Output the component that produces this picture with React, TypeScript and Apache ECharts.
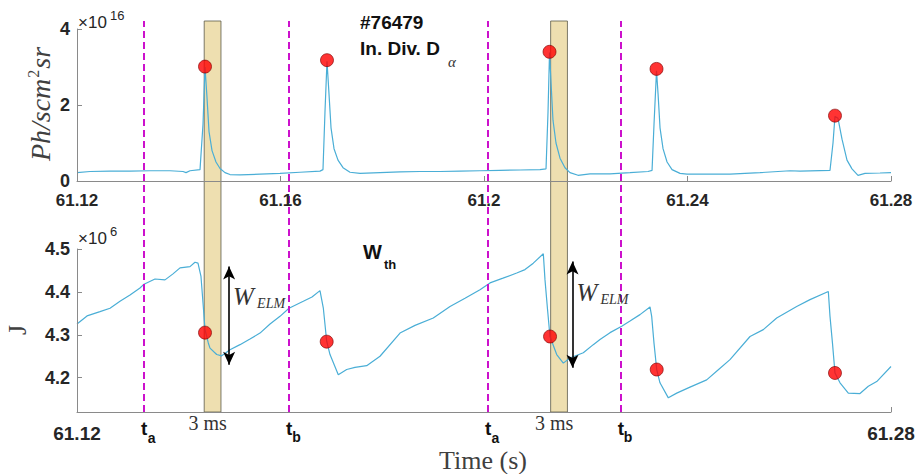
import React, { useEffect, useRef } from "react";
import * as echarts from "echarts";

// ---- data ----
const X_MIN = 61.12;
const X_MAX = 61.28;
const TOP_X_TICKS = [61.12, 61.16, 61.2, 61.24, 61.28];
const BOTTOM_X_TICKS = [61.12, 61.28];
const TOP_Y_TICKS = [0, 2, 4];
const BOTTOM_Y_TICKS = [4.2, 4.3, 4.4, 4.5];

// In. Div. D_alpha  (units of 1e16 Ph/scm^2sr)
const DALPHA_T = [
  61.12, 61.12256, 61.12649, 61.13042, 61.13435, 61.13828, 61.14084, 61.14143, 61.14221, 61.14418,
  61.14477, 61.14516, 61.14555, 61.14595, 61.14654, 61.14732, 61.14811, 61.14909, 61.15007, 61.15204,
  61.15597, 61.1599, 61.16383, 61.16776, 61.16835, 61.16874, 61.16914, 61.16953, 61.16993, 61.17052,
  61.1713, 61.17229, 61.17366, 61.17563, 61.17956, 61.18349, 61.18742, 61.19135, 61.19528, 61.19921,
  61.20314, 61.20708, 61.21101, 61.21219, 61.21258, 61.21288, 61.21317, 61.21356, 61.21415, 61.21494,
  61.21592, 61.2169, 61.21848, 61.22084, 61.22477, 61.2287, 61.23224, 61.23303, 61.23342, 61.23391,
  61.23421, 61.2346, 61.23519, 61.23598, 61.23696, 61.23853, 61.23991, 61.24246, 61.24836, 61.25425,
  61.26015, 61.26212, 61.26801, 61.2686, 61.26899, 61.26958, 61.27037, 61.27135, 61.27233, 61.27351,
  61.27489, 61.27784, 61.28,
];
const DALPHA_V = [
  0.22, 0.25, 0.26, 0.26, 0.27, 0.27, 0.25, 0.22, 0.27, 0.3,
  1.5, 3.0, 2.2, 1.3, 0.8, 0.5, 0.33, 0.22, 0.17, 0.16,
  0.18, 0.2, 0.23, 0.26, 0.3, 1.8, 3.15, 2.3, 1.4, 0.85,
  0.55, 0.35, 0.23, 0.2, 0.22, 0.24, 0.25, 0.25, 0.26, 0.27,
  0.28, 0.29, 0.3, 0.32, 1.8, 3.38, 2.6, 1.6, 1.0, 0.6,
  0.35, 0.22, 0.15, 0.19, 0.19, 0.22, 0.25, 0.28, 1.5, 2.9,
  2.3, 1.4, 0.85, 0.5, 0.3, 0.2, 0.18, 0.18, 0.18, 0.22,
  0.27, 0.26, 0.28, 1.0, 1.7, 1.65, 1.1, 0.55, 0.32, 0.15,
  0.2, 0.21, 0.22,
];
const DALPHA_DOT_T = [61.14516, 61.16914, 61.21288, 61.23391, 61.26899];
const DALPHA_DOT_V = [3.01, 3.18, 3.4, 2.95, 1.72];

// W_th (units of 1e6 J)
const WTH_T = [
  61.12, 61.12197, 61.12452, 61.12649, 61.12845, 61.13042, 61.13238, 61.13317, 61.13533, 61.1373,
  61.13887, 61.14025, 61.14221, 61.14319, 61.14378, 61.14437, 61.14477, 61.14516, 61.14581, 61.14614,
  61.14746, 61.14844, 61.15007, 61.15204, 61.154, 61.15597, 61.15794, 61.1599, 61.16167, 61.16448,
  61.16619, 61.16776, 61.16841, 61.16908, 61.16973, 61.17136, 61.17301, 61.17464, 61.17694, 61.17956,
  61.18349, 61.18644, 61.19003, 61.19332, 61.19627, 61.19921, 61.20118, 61.20373, 61.20643, 61.20806,
  61.20969, 61.21166, 61.21199, 61.21248, 61.21297, 61.21429, 61.21559, 61.2169, 61.21952, 61.22148,
  61.2228, 61.22477, 61.22707, 61.2287, 61.23066, 61.23263, 61.23296, 61.23342, 61.23395, 61.23459,
  61.23623, 61.23788, 61.24049, 61.24377, 61.246, 61.24835, 61.25229, 61.2549, 61.25753, 61.26146,
  61.26408, 61.26768, 61.26801, 61.2685, 61.26899, 61.26998, 61.27161, 61.27391, 61.27554, 61.27719,
  61.28,
];
const WTH_V = [
  4.325, 4.344, 4.354, 4.362, 4.378, 4.393, 4.409, 4.418, 4.43, 4.428,
  4.442, 4.456, 4.459, 4.469, 4.467, 4.436, 4.374, 4.312, 4.281, 4.269,
  4.254, 4.251, 4.265, 4.277, 4.29, 4.304, 4.325, 4.343, 4.362, 4.378,
  4.388, 4.403, 4.363, 4.285, 4.254, 4.207, 4.219, 4.224, 4.228, 4.25,
  4.304, 4.322, 4.339, 4.366, 4.385, 4.405, 4.421, 4.432, 4.444, 4.452,
  4.467, 4.489, 4.428, 4.36, 4.296, 4.254, 4.234, 4.246, 4.258, 4.277,
  4.289, 4.305, 4.32, 4.332, 4.347, 4.365, 4.343, 4.28, 4.219, 4.188,
  4.153, 4.164, 4.178, 4.195, 4.218, 4.242, 4.296, 4.312, 4.339, 4.366,
  4.382, 4.401, 4.343, 4.28, 4.211, 4.188, 4.164, 4.163, 4.18, 4.191,
  4.226,
];
const WTH_DOT_T = [61.14516, 61.16908, 61.21298, 61.23395, 61.26899];
const WTH_DOT_V = [4.305, 4.284, 4.296, 4.219, 4.211];

// annotations
const T_A = [61.1332, 61.2008];
const T_B = [61.1617, 61.2269];
const BAND_START = [61.145, 61.2131];
const BAND_END = [61.1483, 61.2164];
const ARROW_T = [61.1499, 61.2174];
const ARROW_TOP = [4.459, 4.471];
const ARROW_BOT = [4.23, 4.223];

const SANS = '"Liberation Sans", Arial, Helvetica, sans-serif';
const SERIF = '"Liberation Serif", "Times New Roman", serif';
const LINE_COLOR = "#4aaed6";
const AXIS_COLOR = "#8a8a8a";
const LABEL_COLOR = "#262626";

const fmt = (v: number) => String(parseFloat(v.toFixed(2)));

export default function App() {
  const ref = useRef<HTMLDivElement>(null);
  useEffect(() => {
    if (!ref.current) return;
    const chart = echarts.init(ref.current, undefined, { renderer: "svg" });
    const zip = (a: number[], b: number[]) => a.map((t, i) => [t, b[i]]);
    const axisCommon = {
      axisLine: { show: true, lineStyle: { color: AXIS_COLOR, width: 1 } },
      axisTick: { show: true, inside: true, length: 5, lineStyle: { color: AXIS_COLOR } },
      splitLine: { show: false },
    };
    const option: any = {
      animation: false,
      grid: [
        { left: 77, right: 30, top: 29, height: 152 },
        { left: 77, right: 30, top: 249, height: 163 },
        { left: 77, right: 30, top: 21, bottom: 62 },
      ],
      xAxis: [
        {
          gridIndex: 0, type: "value", min: X_MIN, max: X_MAX, z: 5, ...axisCommon,
          axisTick: { ...axisCommon.axisTick, customValues: TOP_X_TICKS },
          axisLabel: { customValues: TOP_X_TICKS, formatter: fmt, fontFamily: SANS, fontWeight: "bold", fontSize: 17, color: LABEL_COLOR, margin: 11 },
        },
        {
          gridIndex: 1, type: "value", min: X_MIN, max: X_MAX, z: 5, ...axisCommon,
          axisTick: { ...axisCommon.axisTick, customValues: BOTTOM_X_TICKS },
          axisLabel: { customValues: BOTTOM_X_TICKS, formatter: fmt, fontFamily: SANS, fontWeight: "bold", fontSize: 19, color: LABEL_COLOR, margin: 12 },
        },
        { gridIndex: 2, type: "value", min: X_MIN, max: X_MAX, show: false },
      ],
      yAxis: [
        {
          gridIndex: 0, type: "value", min: 0, max: 4, z: 5, ...axisCommon,
          axisTick: { ...axisCommon.axisTick, customValues: TOP_Y_TICKS },
          axisLabel: { customValues: TOP_Y_TICKS, fontFamily: SANS, fontWeight: "bold", fontSize: 18, color: LABEL_COLOR, margin: 7 },
        },
        {
          gridIndex: 1, type: "value", min: 4.12, max: 4.5, z: 5, ...axisCommon,
          axisTick: { ...axisCommon.axisTick, customValues: BOTTOM_Y_TICKS },
          axisLabel: { customValues: BOTTOM_Y_TICKS, formatter: (v: number) => v.toFixed(1), fontFamily: SANS, fontWeight: "bold", fontSize: 18, color: LABEL_COLOR, margin: 7 },
        },
        { gridIndex: 2, type: "value", min: 0, max: 1, show: false },
      ],
      series: [
        {
          type: "line", xAxisIndex: 2, yAxisIndex: 2, data: [], z: 1, silent: true,
          markArea: {
            silent: true,
            itemStyle: { color: "#eedfb0", borderColor: "#5c5a4a", borderWidth: 0.8 },
            data: BAND_START.map((s, i) => [{ xAxis: s }, { xAxis: BAND_END[i] }]),
          },
          markLine: {
            silent: true, symbol: "none", label: { show: false }, precision: 6,
            lineStyle: { color: "#cc11cc", type: [7, 4], width: 2 },
            data: [...T_A, ...T_B].map((t) => [{ coord: [t, 0] }, { coord: [t, 1] }]),
          },
        },
        {
          type: "line", xAxisIndex: 0, yAxisIndex: 0, data: zip(DALPHA_T, DALPHA_V), z: 3,
          showSymbol: false, lineStyle: { color: LINE_COLOR, width: 1.2 },
        },
        {
          type: "line", xAxisIndex: 1, yAxisIndex: 1, data: zip(WTH_T, WTH_V), z: 3,
          showSymbol: false, lineStyle: { color: LINE_COLOR, width: 1.2 },
        },
        {
          type: "line", xAxisIndex: 1, yAxisIndex: 1, data: [], z: 4,
          markLine: {
            silent: true, symbol: ["arrow", "arrow"], symbolSize: [9, 13], label: { show: false }, precision: 6,
            lineStyle: { color: "#000", width: 1.6, type: "solid" },
            data: ARROW_T.map((t, i) => [{ coord: [t, ARROW_TOP[i]] }, { coord: [t, ARROW_BOT[i]] }]),
          },
        },
        {
          type: "scatter", xAxisIndex: 0, yAxisIndex: 0, data: zip(DALPHA_DOT_T, DALPHA_DOT_V), z: 5,
          symbolSize: 13, itemStyle: { color: "#ff0000", borderColor: "#7a0000", borderWidth: 0.8 },
        },
        {
          type: "scatter", xAxisIndex: 1, yAxisIndex: 1, data: zip(WTH_DOT_T, WTH_DOT_V), z: 5,
          symbolSize: 13, itemStyle: { color: "#ff0000", borderColor: "#7a0000", borderWidth: 0.8 },
        },
      ],
    };
    chart.setOption(option);

    const px = (t: number) => chart.convertToPixel({ xAxisIndex: 0 }, t) as number;
    const txt = (x: number, y: number, text: string, font: string, extra: any = {}) => ({
      type: "text", x, y, silent: true, z: 10,
      style: { text, font, fill: extra.fill || "#111", align: extra.align || "left", verticalAlign: "middle" },
    });
    const g: any[] = [
      txt(360, 22, "#76479", `bold 19px ${SANS}`),
      txt(360, 48, "In. Div. D", `bold 19px ${SANS}`),
      txt(448, 62, "α", `italic 15px ${SERIF}`, { fill: "#333" }),
      txt(363, 252, "W", `bold 20px ${SANS}`),
      txt(384, 264, "th", `bold 13px ${SANS}`),
      txt(78, 22, "×10", `17px ${SANS}`, { fill: LABEL_COLOR }),
      txt(110, 15, "16", `13px ${SANS}`, { fill: LABEL_COLOR }),
      txt(78, 238, "×10", `17px ${SANS}`, { fill: LABEL_COLOR }),
      txt(110, 231, "6", `13px ${SANS}`, { fill: LABEL_COLOR }),
      txt(483, 460, "Time (s)", `26px ${SERIF}`, { fill: "#404040", align: "center" }),
      {
        type: "text", x: 40, y: 104, rotation: Math.PI / 2, silent: true,
        style: {
          text: "{i|Ph/scm}{p|2}{i|sr}", align: "center", verticalAlign: "middle",
          rich: {
            i: { fontFamily: SERIF, fontStyle: "italic", fontSize: 28, fill: "#404040" },
            p: { fontFamily: SERIF, fontSize: 16, fill: "#404040", padding: [0, 1, 14, 1] },
          },
        },
      },
      {
        type: "text", x: 17, y: 330, rotation: Math.PI / 2, silent: true,
        style: { text: "J", font: `26px ${SERIF}`, fill: "#404040", align: "center", verticalAlign: "middle" },
      },
    ];
    T_A.forEach((t) => {
      const x = px(t);
      g.push(txt(x, 428, "t", `bold 19px ${SANS}`, { align: "center" }));
      g.push(txt(x + 3.5, 438, "a", `bold 14px ${SANS}`));
    });
    T_B.forEach((t) => {
      const x = px(t);
      g.push(txt(x, 428, "t", `bold 19px ${SANS}`, { align: "center" }));
      g.push(txt(x + 3, 437, "b", `bold 14px ${SANS}`));
    });
    BAND_START.forEach((s) => {
      g.push(txt(px(s) + 3.5, 423, "3 ms", `20px ${SERIF}`, { fill: "#333", align: "center" }));
    });
    const wy = [296, 292];
    ARROW_T.forEach((t, i) => {
      const x = px(t) + 4;
      g.push(txt(x, wy[i], "W", `italic 25px ${SERIF}`, { fill: "#333" }));
      g.push(txt(x + 24, wy[i] + 7, "ELM", `italic 14px ${SERIF}`, { fill: "#333" }));
    });
    chart.setOption({ graphic: g });

    return () => chart.dispose();
  }, []);
  return (
    <div
      ref={ref}
      style={{ position: "absolute", left: 0, top: 0, width: 921, height: 474, background: "#fff" }}
    />
  );
}
